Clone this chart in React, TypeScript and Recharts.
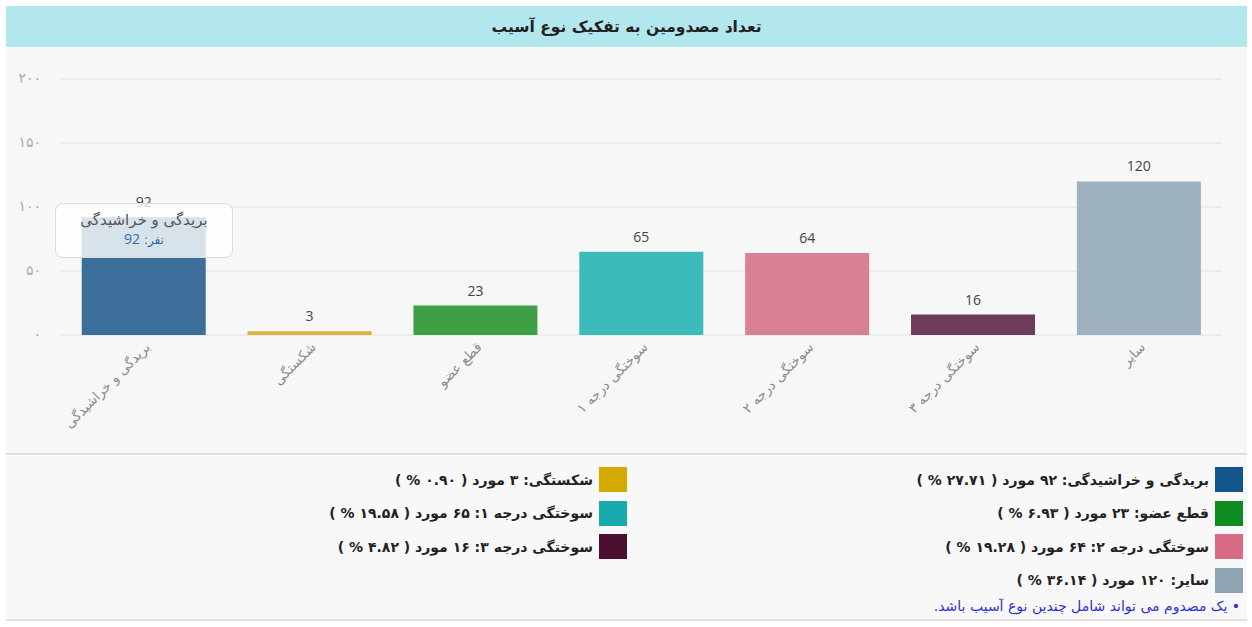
import { BarChart, Bar, XAxis, YAxis, CartesianGrid, Tooltip, LabelList, Cell } from 'recharts';

const categories = ['بریدگی و خراشیدگی', 'شکستگی', 'قطع عضو', 'سوختگی درجه ۱', 'سوختگی درجه ۲', 'سوختگی درجه ۳', 'سایر'];
const counts = [92, 3, 23, 65, 64, 16, 120];
const percents = [27.71, 0.9, 6.93, 19.58, 19.28, 4.82, 36.14];
const barColors = ['#3b6f99', '#d6b43c', '#3f9f45', '#3dbbbb', '#d98097', '#6e3b5b', '#9db1bf'];
const legendColors = ['#15568a', '#d4aa00', '#0f8c1f', '#17a9ab', '#d86a86', '#4b0f30', '#8ea4b3'];
const yTicks = [0, 50, 100, 150, 200];

const FA_FONT = '"DejaVu Sans", sans-serif';

// latin digits -> persian digits
const fa = (v: string | number) => String(v).replace(/[0-9]/g, d => '۰۱۲۳۴۵۶۷۸۹'[Number(d)]);

const chartData = categories.map((name, i) => ({ name, value: counts[i] }));

function AngledTick({ x, y, payload }: any) {
  return (
    <g transform={`translate(${x + 7},${y + 5})`}>
      <text
        transform="rotate(-45)"
        textAnchor="end"
        fontSize={13.5}
        fontFamily={FA_FONT}
        fill="#8a8a8a"
      >
        {payload.value}
      </text>
    </g>
  );
}

function YTick({ x, y, payload }: any) {
  return (
    <text x={x} y={y} dy={4} textAnchor="end" fontSize={14} fontFamily={FA_FONT} fill="#aaa" letterSpacing={2}>
      {fa(payload.value)}
    </text>
  );
}

function TipBox({ active, payload }: any) {
  if (!active || !payload || !payload.length) return null;
  const p = payload[0].payload;
  return (
    <div
      style={{
        width: 176,
        padding: '6px 0 8px',
        background: 'rgba(255,255,255,0.8)',
        border: '1px solid #dcdcdc',
        borderRadius: 8,
        textAlign: 'center',
        fontFamily: FA_FONT,
        direction: 'rtl',
      }}
    >
      <div style={{ fontSize: 15, color: '#555', lineHeight: '20px' }}>{p.name}</div>
      <div style={{ fontSize: 12, color: '#2d6da8', lineHeight: '18px' }}>
        نفر: <span style={{ fontFamily: '"Open Sans", sans-serif', fontSize: 14 }}>{p.value}</span>
      </div>
    </div>
  );
}

export default function App() {
  return (
    <div style={{ position: 'absolute', left: 0, top: 0, width: 1252, height: 627, background: '#fff', overflow: 'hidden' }}>
      {/* header */}
      <div
        style={{
          position: 'absolute', left: 6, top: 6, width: 1241, height: 41,
          background: '#b3e7ee', display: 'flex', alignItems: 'center', justifyContent: 'center',
          fontFamily: FA_FONT, fontWeight: 700, fontSize: 15.5, color: '#222', direction: 'rtl',
        }}
      >
        تعداد مصدومین به تفکیک نوع آسیب
      </div>

      {/* chart */}
      <div style={{ position: 'absolute', left: 6, top: 48, width: 1241, height: 405, background: '#f7f7f7' }}>
        <BarChart
          width={1246}
          height={405}
          data={chartData}
          margin={{ top: 31, right: 30, bottom: 30, left: -5 }}
          barCategoryGap="12.5%"
        >
          <CartesianGrid vertical={false} stroke="#e2e2e2" />
          <XAxis
            dataKey="name"
            interval={0}
            axisLine={false}
            tickLine={false}
            height={88}
            tick={<AngledTick />}
          />
          <YAxis
            domain={[0, 200]}
            ticks={yTicks}
            width={60}
            axisLine={false}
            tickLine={false}
            tickMargin={14}
            tick={<YTick />}
          />
          <Tooltip
            defaultIndex={0}
            active
            cursor={false}
            position={{ x: 49, y: 155 }}
            content={<TipBox />}
            isAnimationActive={false}
            wrapperStyle={{ outline: 'none' }}
          />
          <Bar dataKey="value" isAnimationActive={false} activeBar={false}>
            {chartData.map((d, i) => (
              <Cell key={d.name} fill={barColors[i]} />
            ))}
            <LabelList dataKey="value" position="top" offset={10} fontSize={14} fill="#444" fontFamily='"Open Sans", sans-serif' />
          </Bar>
        </BarChart>
      </div>

      {/* separator */}
      <div style={{ position: 'absolute', left: 6, top: 453, width: 1241, height: 2, background: '#dedede' }} />

      {/* legend */}
      <div style={{ position: 'absolute', left: 6, top: 456, width: 1241, height: 163, background: '#f8f8f8' }}>
        <div
          style={{
            position: 'absolute', right: 4, top: 11, width: 1232,
            display: 'grid', gridTemplateColumns: '616px 616px', rowGap: 8.5,
            direction: 'rtl', fontFamily: FA_FONT,
          }}
        >
          {categories.map((name, i) => (
            <div key={name} style={{ display: 'flex', alignItems: 'center', height: 25 }}>
              <span style={{ width: 28, height: 25, background: legendColors[i], display: 'inline-block', marginLeft: 6 }} />
              <span style={{ fontSize: 14, fontWeight: 700, color: '#222' }}>
                {`${name}: ${fa(counts[i])} مورد ( ${fa(percents[i].toFixed(2))} % )`}
              </span>
            </div>
          ))}
        </div>
        <div
          style={{
            position: 'absolute', right: 7, top: 142, direction: 'rtl',
            fontFamily: FA_FONT, fontSize: 14, color: '#3030d0',
          }}
        >
          • یک مصدوم می تواند شامل چندین نوع آسیب باشد.
        </div>
      </div>
      <div style={{ position: 'absolute', left: 6, top: 619, width: 1241, height: 2, background: '#e2e2e2' }} />
    </div>
  );
}
